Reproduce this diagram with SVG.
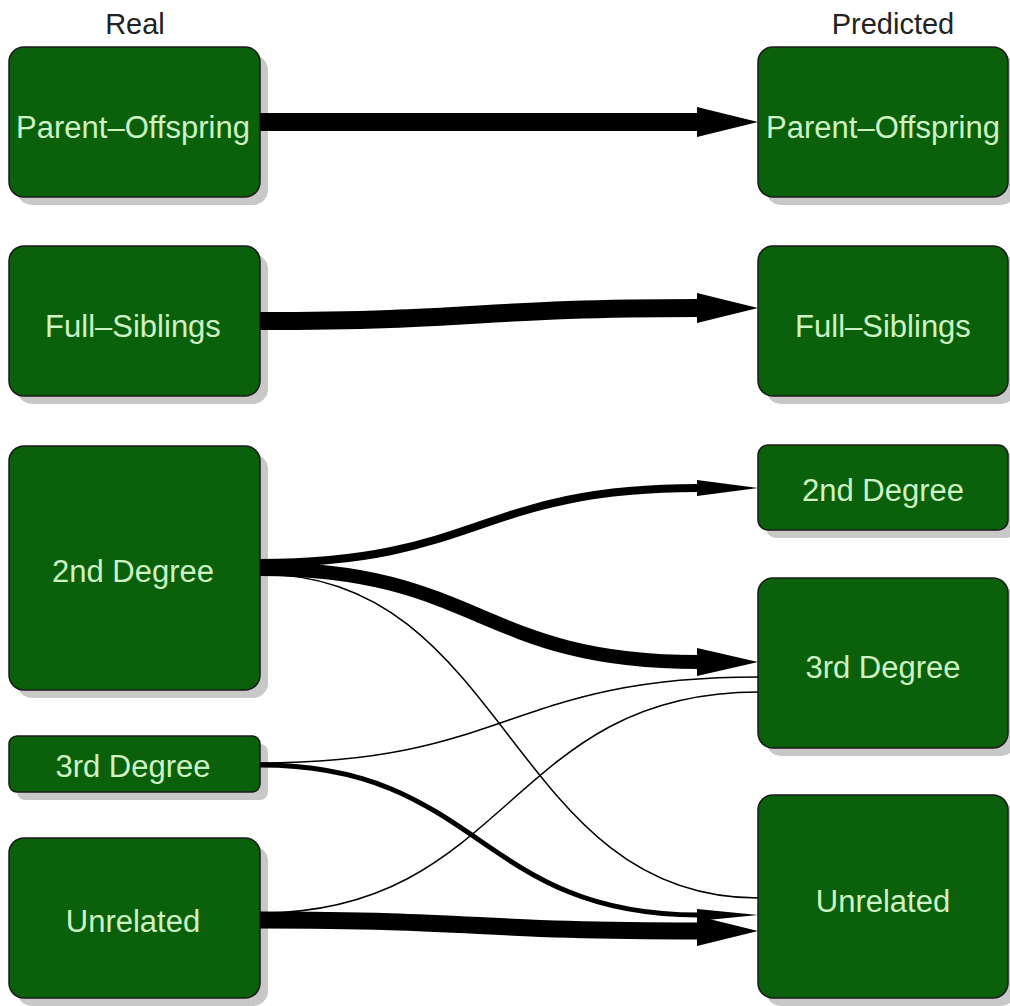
<svg xmlns="http://www.w3.org/2000/svg" width="1010" height="1006" viewBox="0 0 1010 1006">
<style>
.shadow{fill:#c8c8c8}
.box{fill:#0b600b;stroke:#1a1a1a;stroke-width:1.5}
.lbl{font-family:"Liberation Sans",Arial,sans-serif;font-size:31px;fill:#cdf3c4;text-anchor:middle}
.title{font-family:"Liberation Sans",Arial,sans-serif;font-size:29px;fill:#222;text-anchor:middle}
.edge{fill:none;stroke:#000}
.head{fill:#000}
</style>
<rect width="1010" height="1006" fill="#fff"/>
<text class="title" x="135" y="34">Real</text>
<text class="title" x="893" y="34">Predicted</text>
<g id="real-parent-offspring">
  <rect class="shadow" x="17" y="55" width="251" height="150" rx="15"/>
  <rect class="box" x="9" y="47" width="251" height="150" rx="15"/>
  <text class="lbl" x="133" y="138">Parent–Offspring</text>
</g>
<g id="real-full-siblings">
  <rect class="shadow" x="17" y="254" width="251" height="150" rx="15"/>
  <rect class="box" x="9" y="246" width="251" height="150" rx="15"/>
  <text class="lbl" x="133" y="337">Full–Siblings</text>
</g>
<g id="real-2nd-degree">
  <rect class="shadow" x="17" y="454" width="251" height="244" rx="15"/>
  <rect class="box" x="9" y="446" width="251" height="244" rx="15"/>
  <text class="lbl" x="133" y="582">2nd Degree</text>
</g>
<g id="real-3rd-degree">
  <rect class="shadow" x="17" y="744" width="251" height="56" rx="8"/>
  <rect class="box" x="9" y="736" width="251" height="56" rx="8"/>
  <text class="lbl" x="133" y="777">3rd Degree</text>
</g>
<g id="real-unrelated">
  <rect class="shadow" x="17" y="846" width="251" height="160" rx="15"/>
  <rect class="box" x="9" y="838" width="251" height="160" rx="15"/>
  <text class="lbl" x="133" y="932">Unrelated</text>
</g>
<g id="pred-parent-offspring">
  <rect class="shadow" x="766" y="55" width="250" height="150" rx="15"/>
  <rect class="box" x="758" y="47" width="250" height="150" rx="15"/>
  <text class="lbl" x="883" y="138">Parent–Offspring</text>
</g>
<g id="pred-full-siblings">
  <rect class="shadow" x="766" y="254" width="250" height="150" rx="15"/>
  <rect class="box" x="758" y="246" width="250" height="150" rx="15"/>
  <text class="lbl" x="883" y="337">Full–Siblings</text>
</g>
<g id="pred-2nd-degree">
  <rect class="shadow" x="766" y="453" width="250" height="85" rx="10"/>
  <rect class="box" x="758" y="445" width="250" height="85" rx="10"/>
  <text class="lbl" x="883" y="501">2nd Degree</text>
</g>
<g id="pred-3rd-degree">
  <rect class="shadow" x="766" y="586" width="250" height="170" rx="15"/>
  <rect class="box" x="758" y="578" width="250" height="170" rx="15"/>
  <text class="lbl" x="883" y="678">3rd Degree</text>
</g>
<g id="pred-unrelated">
  <rect class="shadow" x="766" y="803" width="250" height="203" rx="15"/>
  <rect class="box" x="758" y="795" width="250" height="203" rx="15"/>
  <text class="lbl" x="883" y="912">Unrelated</text>
</g>
<g id="connectors">
  <path class="edge" stroke-width="18" d="M260,122 L698,122"/>
  <polygon class="head" points="697,107 758,122 697,137"/>
  <path class="edge" stroke-width="18" d="M260,321 C479,321 479,308 698,308"/>
  <polygon class="head" points="697,293 758,308 697,323"/>
  <path class="edge" stroke-width="8" d="M260,563 C479,563 479,488 698,488"/>
  <polygon class="head" points="697,480 758,488 697,496"/>
  <path class="edge" stroke-width="14" d="M260,569 C479,569 479,662 698,662"/>
  <polygon class="head" points="697,648 758,662 697,676"/>
  <path class="edge" stroke-width="1.5" d="M260,574 C509,574 509,898 758,898"/>
  <path class="edge" stroke-width="1.5" d="M260,763 C509,763 509,677 758,677"/>
  <path class="edge" stroke-width="5" d="M260,765 C479,765 479,915 698,915"/>
  <polygon class="head" points="697,909 758,915 697,921"/>
  <path class="edge" stroke-width="1.5" d="M260,913 C509,913 509,692 758,692"/>
  <path class="edge" stroke-width="17" d="M260,920 C479,920 479,931 698,931"/>
  <polygon class="head" points="697,916 758,931 697,946"/>
</g>
</svg>
